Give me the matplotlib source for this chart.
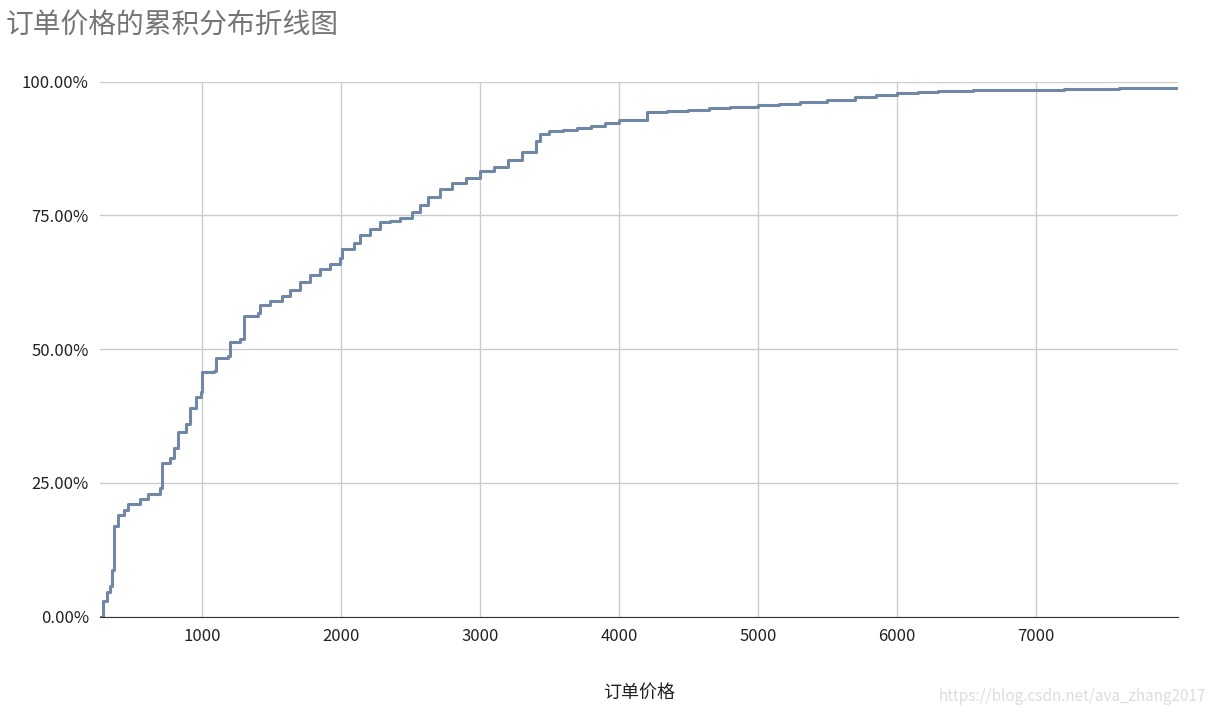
import matplotlib.pyplot as plt
from matplotlib.ticker import FuncFormatter

plt.rcParams['font.family'] = ['Noto Sans CJK SC', 'DejaVu Sans']

price = [266, 288, 317, 338, 353, 367, 396, 439, 468, 554, 612, 698, 712, 770, 799, 827,
         885, 914, 957, 993, 1000, 1086, 1101, 1187, 1201, 1273, 1302, 1403, 1417, 1489,
         1576, 1633, 1705, 1777, 1849, 1921, 1993, 2007, 2094, 2137, 2209, 2281, 2353,
         2424, 2511, 2568, 2626, 2712, 2799, 2899, 3000, 3101, 3201, 3302, 3403, 3432,
         3500, 3600, 3700, 3800, 3900, 4000, 4200, 4350, 4500, 4650, 4800, 5000, 5150,
         5300, 5500, 5700, 5850, 6000, 6150, 6300, 6550, 6800, 7200, 7600, 8022]
cum_pct = [0.0, 3.0, 4.7, 5.8, 8.8, 17.0, 19.0, 20.0, 21.0, 22.0, 23.0, 24.0, 28.7, 29.7,
           31.5, 34.5, 36.0, 39.0, 41.0, 42.0, 45.7, 46.0, 48.3, 48.7, 51.3, 52.0, 56.3,
           56.7, 58.2, 59.0, 60.0, 61.0, 62.5, 63.8, 65.0, 66.0, 67.0, 68.8, 69.8, 71.3,
           72.5, 73.7, 74.0, 74.5, 75.6, 76.9, 78.5, 80.0, 81.0, 82.0, 83.4, 84.0, 85.3,
           86.8, 89.0, 90.3, 90.7, 91.0, 91.4, 91.8, 92.2, 92.8, 94.3, 94.5, 94.7, 95.0,
           95.3, 95.7, 95.9, 96.2, 96.6, 97.2, 97.5, 97.8, 98.0, 98.2, 98.4, 98.5, 98.7,
           98.8, 98.8]

fig = plt.figure(figsize=(12.18, 7.23), dpi=100)
ax = fig.add_axes([0.082, 0.147, 0.885, 0.74])
ax.plot(price, cum_pct, drawstyle='steps-post', color='#7088a6', linewidth=2.2)

ax.set_xlim(266, 8022)
ax.set_ylim(0, 100)
ax.set_xticks(range(1000, 8000, 1000))
ax.set_yticks([0, 25, 50, 75, 100])
ax.yaxis.set_major_formatter(FuncFormatter(lambda v, p: f"{v:.2f}%"))
ax.grid(True, color='#cccccc', linewidth=1)
ax.set_axisbelow(True)
for s in ['top', 'right', 'left']:
    ax.spines[s].set_visible(False)
ax.spines['bottom'].set_color('#333333')
ax.tick_params(length=0, labelsize=12, colors='#222222', pad=8)
ax.set_xlabel("订单价格", fontsize=13, labelpad=28, color='#222222')

fig.text(0.005, 0.955, "订单价格的累积分布折线图", fontsize=20, color='#757575')
fig.text(0.99, 0.03, "https://blog.csdn.net/ava_zhang2017", fontsize=11,
         color='#dddddd', ha='right')

fig.savefig("out.png")
